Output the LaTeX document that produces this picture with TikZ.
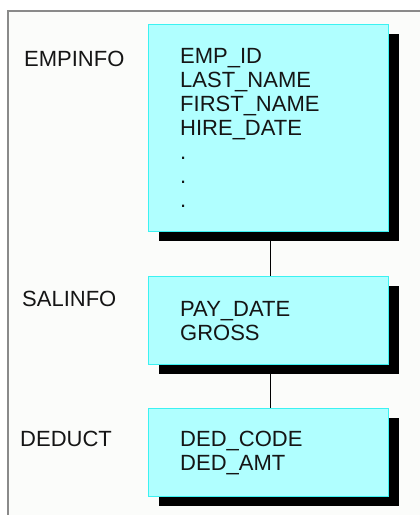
\documentclass[tikz,border=0pt]{standalone}
\usepackage{fontspec}
\setmainfont{Liberation Sans}
\usetikzlibrary{shadows}
\definecolor{boxfill}{HTML}{B0FFFF}
\definecolor{boxedge}{HTML}{3CF2F2}
\definecolor{framegray}{HTML}{8A8A8A}
\definecolor{paper}{HTML}{FBFCFA}
\definecolor{ink}{HTML}{151515}
\begin{document}
\begin{tikzpicture}[x=1pt,y=-1pt,
  box/.style={draw=boxedge, line width=1.2pt, fill=boxfill, rectangle, anchor=north west,
    minimum width=240pt, inner sep=0pt,
    drop shadow={shadow xshift=10pt, shadow yshift=-9pt, fill=black, opacity=1}},
  lbl/.style={anchor=base west, inner sep=0pt, text=ink, font=\fontsize{22}{24}\selectfont},
  fld/.style={anchor=base west, inner sep=0pt, text=ink, align=left, font=\fontsize{22}{24}\selectfont},
  link/.style={draw=black, line width=1.4pt}]
\useasboundingbox (0,0) rectangle (420,515);
\fill[white] (0,0) rectangle (420,515);
\fill[paper] (8,11) rectangle (420,515);
\draw[framegray, line width=1.5pt] (8,515) -- (8,11) -- (420,11);

\node[box, minimum height=207pt] (emp) at (148,24) {};
\node[box, minimum height=88pt] (sal) at (148,276) {};
\node[box, minimum height=88pt] (ded) at (148,408) {};

\coordinate (e1) at ([xshift=2pt,yshift=-9pt]emp.south);
\coordinate (s1) at ([xshift=2pt]sal.north);
\coordinate (s2) at ([xshift=2pt,yshift=-9pt]sal.south);
\coordinate (d1) at ([xshift=2pt]ded.north);
\draw[link] (e1) -- (s1);
\draw[link] (s2) -- (d1);

\node[lbl] (lemp) at (24,66) {EMPINFO};
\node[lbl] (lsal) at (22,306) {SALINFO};
\node[lbl] (lded) at (20,446.5) {DEDUCT};

% base anchor of a multi-line node is the baseline of its last line
\node[fld] (femp) at (180,207) {EMP\_ID\\LAST\_NAME\\FIRST\_NAME\\HIRE\_DATE\\.\\.\\.};
\node[fld] (fsal) at (180,340.5) {PAY\_DATE\\GROSS};
\node[fld] (fded) at (180,470.5) {DED\_CODE\\DED\_AMT};
\end{tikzpicture}
\end{document}
